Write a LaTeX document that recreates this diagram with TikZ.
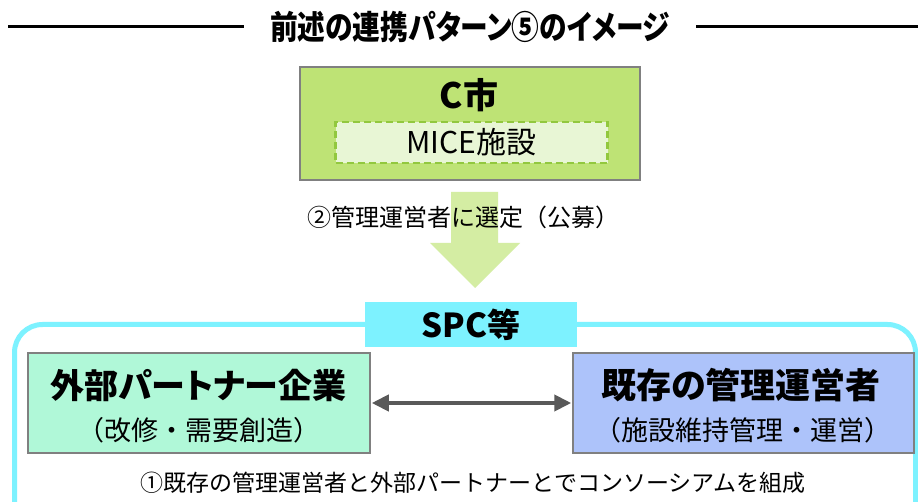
\documentclass[tikz,border=0pt]{standalone}
\usepackage{fontspec}
\setmainfont{Noto Sans CJK JP}
\newfontfamily\jpp[RawFeature=+palt]{Noto Sans CJK JP}
\usetikzlibrary{arrows.meta}
\definecolor{bordergray}{HTML}{808080}
\definecolor{cgreen}{HTML}{BEE375}
\definecolor{cgreenlight}{HTML}{E8F6D5}
\definecolor{dashgreen}{HTML}{92C83E}
\definecolor{arrowgreen}{HTML}{D4EDA3}
\definecolor{spccyan}{HTML}{7DF2FF}
\definecolor{mint}{HTML}{B0F8D8}
\definecolor{lblue}{HTML}{ADC3FA}
\definecolor{dgray}{HTML}{595959}
\tikzset{
  box/.style={draw=bordergray, line width=1.5pt, inner sep=0pt},
  txt/.style={inner sep=0pt, text=black},
}
\newcommand{\fs}[1]{\fontsize{#1}{#1}\selectfont}
\begin{document}
\begin{tikzpicture}[x=1pt,y=-1pt]
\useasboundingbox (0,0) rectangle (918,502);
\clip (0,0) rectangle (918,502);
\fill[white] (0,0) rectangle (918,502);
% title
\node[inner xsep=26pt, inner ysep=0pt] (title) at (470,27)
  {\scalebox{0.84}[1]{\fs{33}\bfseries\jpp 前述の連携パターン⑤のイメージ}};
\coordinate (tl) at (8,27);
\coordinate (tr) at (918,27);
\draw[line width=3pt] (tl) -- (title.west);
\draw[line width=3pt] (title.east) -- (tr);
% C city box
\node[box, fill=cgreen, minimum width=340pt, minimum height=113pt] (city) at (470,123.5) {};
\node[txt] (citylbl) at (469,95) {\fs{35}\bfseries C市};
\node[draw=dashgreen, dashed, dash pattern=on 7pt off 4pt, line width=2.5pt, fill=cgreenlight,
      minimum width=272pt, minimum height=41pt, inner sep=0pt] (mice) at (471.5,142.5) {\fs{30}MICE施設};
% down arrow
\fill[arrowgreen] (451,192) -- (498,192) -- (498,243) -- (520,243) -- (475,288) -- (430,243) -- (451,243) -- cycle;
\node[txt] (sel) at (463,217) {\fs{24}②管理運営者に選定（公募）};
% SPC frame
\draw[spccyan, line width=5pt, rounded corners=28pt] (14.5,560) -- (14.5,324.5) -- (915.5,324.5) -- (915.5,560);
\node[fill=spccyan, minimum width=212pt, minimum height=45pt, inner sep=0pt] (spc) at (471,324.5) {\fs{33}\bfseries SPC等};
% boxes
\node[box, fill=mint, minimum width=342pt, minimum height=100pt] (partner) at (199,403) {};
\node[txt] (partnert) at (198.5,385) {\fs{34}\bfseries\jpp 外部パートナー企業};
\node[txt] (partners) at (198.5,430) {\fs{27}（改修・需要創造）};
\node[box, fill=lblue, minimum width=341pt, minimum height=100pt] (manager) at (743.5,403) {};
\node[txt] (managert) at (741,385) {\fs{35}\bfseries\jpp 既存の管理運営者};
\node[txt] (managers) at (743,430) {\fs{27}（施設維持管理・運営）};
\draw[dgray, line width=4pt, {Triangle[length=17pt,width=16pt]}-{Triangle[length=17pt,width=16pt]}, shorten <=1pt, shorten >=1pt]
  (partner.east) -- (manager.west);
\node[txt] (consort) at (473,483) {\fs{23}①既存の管理運営者と外部パートナーとでコンソーシアムを組成};
\end{tikzpicture}
\end{document}
